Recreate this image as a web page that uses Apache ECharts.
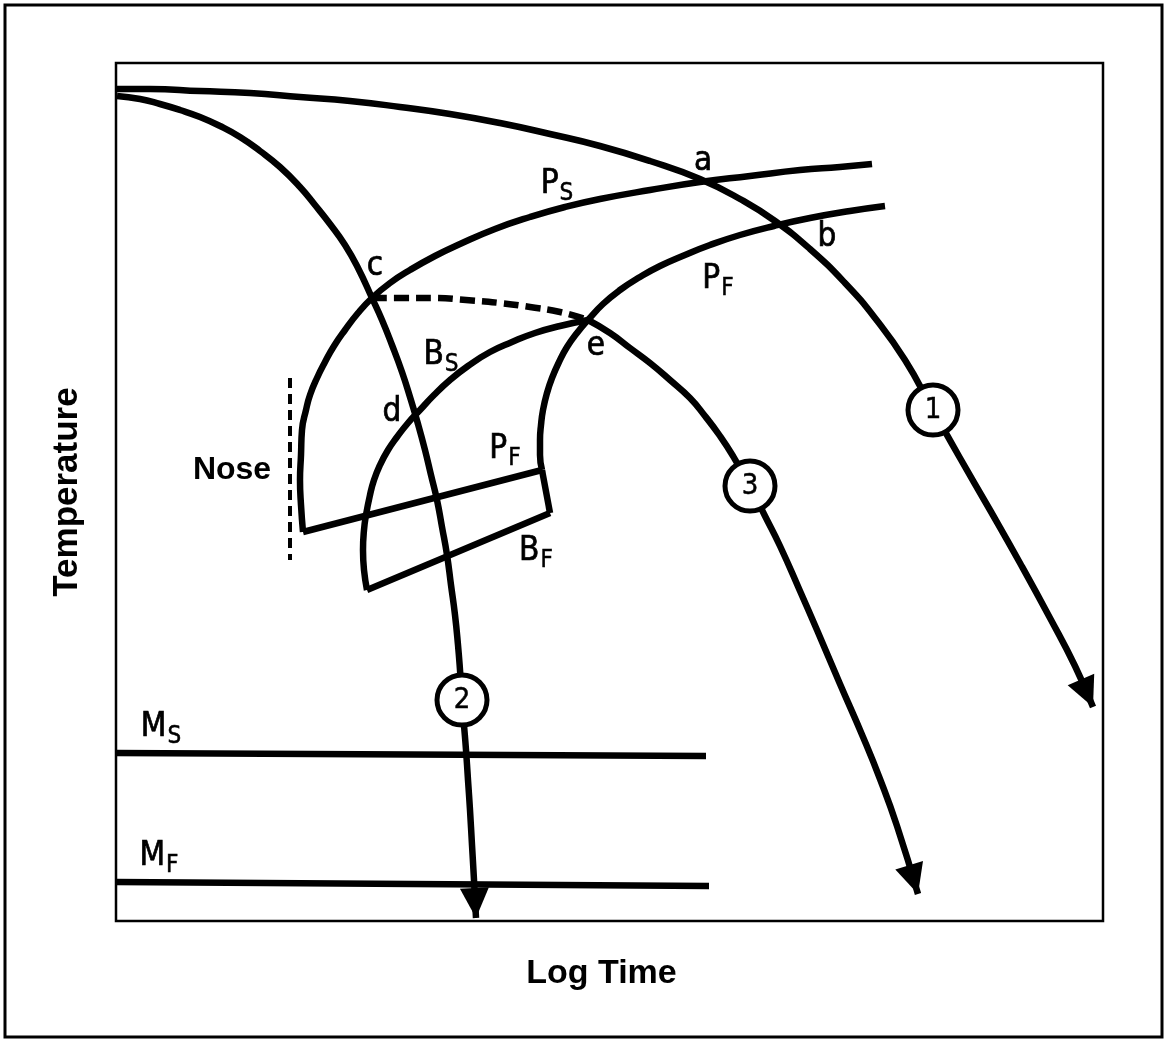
<!DOCTYPE html>
<html>
<head>
<meta charset="utf-8">
<title>CCT diagram</title>
<script src="https://cdn.jsdelivr.net/npm/echarts@6/dist/echarts.min.js"></script>
<style>
  html, body { margin: 0; padding: 0; background: #fff; }
  #chart { width: 1167px; height: 1040px; }
</style>
</head>
<body>
<div id="chart"></div>
<script>
// Axis units are arbitrary: x = log time, y = temperature (both 0 at the lower left corner)
const X_MAX = 987;
const Y_MAX = 858;

// Cooling curves
const cooling1 = [[1, 832], [34, 832], [84, 830], [134, 828], [184, 824], [234, 820], [284, 814], [334, 807],
    [384, 798], [434, 787], [484, 775], [534, 760], [584, 742], [624, 722], [659, 700], [694, 672],
    [729, 638], [759, 603], [789, 561], [817, 511], [844, 463], [874, 411], [904, 358], [934, 303],
    [959, 255], [977, 214]];
const cooling2 = [[1, 825], [24, 822], [44, 817], [64, 811], [84, 804], [104, 795], [124, 784], [144, 770],
    [164, 754], [184, 734], [199, 716], [214, 697], [229, 676], [242, 653], [256, 623], [266, 601],
    [276, 576], [286, 549], [294, 524], [302, 497], [309, 471], [315, 446], [321, 421], [326, 394],
    [331, 366], [335, 336], [339, 306], [342, 276], [344, 251], [346, 221], [348, 196], [350, 171],
    [352, 141], [354, 111], [356, 76], [358, 41], [360, 3]];
const cooling3Dashed = [[256, 623], [284, 623], [317, 623], [350, 621], [384, 618], [414, 614], [444, 609],
    [472, 601]];
const cooling3 = [[472, 601], [494, 588], [514, 573], [534, 558], [554, 541], [574, 523], [589, 505],
    [604, 485], [617, 465], [634, 435], [649, 405], [664, 375], [684, 330], [701, 291], [724, 237],
    [747, 184], [764, 142], [781, 95], [802, 27]];

// Transformation boundaries
const pearliteStart = [[187, 389], [185, 416], [184, 441], [185, 466], [186, 491], [190, 511], [194, 526],
    [201, 543], [209, 559], [218, 575], [229, 591], [242, 608], [256, 623], [274, 638], [294, 651],
    [319, 665], [344, 677], [379, 692], [414, 704], [449, 714], [484, 722], [534, 731], [584, 739],
    [634, 745], [684, 751], [724, 754], [756, 757]];
const pearliteEndLine = [[187, 389], [426, 451]];
const pearliteFinish = [[426, 451], [424, 466], [424, 481], [425, 496], [427, 511], [431, 528], [436, 543],
    [443, 559], [451, 574], [461, 588], [472, 601], [487, 617], [504, 631], [524, 644], [544, 655],
    [569, 666], [594, 676], [624, 686], [658, 695], [694, 703], [734, 710], [769, 715]];
const bainiteSide = [[426, 451], [434, 408]];
const bainiteEndLine = [[434, 408], [251, 331]];
const bainiteStart = [[251, 331], [248, 351], [247, 371], [248, 391], [250, 406], [254, 426], [258, 441],
    [264, 456], [272, 471], [281, 484], [292, 498], [304, 511], [318, 526], [334, 541], [352, 555],
    [374, 569], [396, 579], [419, 588], [444, 595], [472, 601]];
const martensiteStart = [[0, 168], [590, 165]];
const martensiteFinish = [[0, 39], [593, 35]];
const noseMark = [[174, 543], [174, 361]];

// Numbered markers on the cooling curves
const markerPos = [[817, 511], [346, 221], [634, 435]];
const markerText = ['1', '2', '3'];

// Text labels: [main, subscript, x, y]
const labelText = [
    ['a', '', 587, 759], ['b', '', 711, 683], ['c', '', 259, 654], ['d', '', 276, 508], ['e', '', 480, 574],
    ['P', 'S', 441, 736], ['P', 'F', 602, 641], ['B', 'S', 325, 565], ['P', 'F', 389, 471],
    ['B', 'F', 420, 369], ['M', 'S', 45, 193], ['M', 'F', 43, 64]
];
const noseLabel = ['Nose', 116, 451];

const FONT = "'DejaVu Sans Condensed', 'Liberation Sans Narrow', sans-serif";
const BOLD_FONT = "'Liberation Sans', Arial, sans-serif";
const INK = '#000';
const LINE_W = 6.5;
const ARROW_LEN = 30;

function curve(data, smooth, dash, width) {
    return {
        type: 'line',
        data: data,
        smooth: smooth,
        symbol: 'none',
        silent: true,
        z: 3,
        lineStyle: { color: INK, width: width || LINE_W, type: dash || 'solid', cap: 'butt', join: 'round' }
    };
}

// arrowhead at the end of a curve, pointing along its last segment
function addArrow(series) {
    const pts = series.data;
    const [x1, y1] = pts[pts.length - 2];
    const [x2, y2] = pts[pts.length - 1];
    const d = Math.hypot(x2 - x1, y2 - y1);
    const ux = (x2 - x1) / d, uy = (y2 - y1) / d;
    const cx = x2 - ux * ARROW_LEN / 2, cy = y2 - uy * ARROW_LEN / 2;
    series.markLine = {
        silent: true,
        animation: false,
        symbol: ['none', 'triangle'],
        symbolSize: [29, ARROW_LEN],
        label: { show: false },
        lineStyle: { color: INK, width: 2, type: 'solid' },
        data: [[{ coord: [cx - ux * 2, cy - uy * 2] }, { coord: [cx, cy] }]]
    };
    return series;
}

const chart = echarts.init(document.getElementById('chart'));

const series = [
    addArrow(curve(cooling1, 0.5)),
    addArrow(curve(cooling2, 0.5)),
    curve(cooling3Dashed, 0.5, [15, 7]),
    addArrow(curve(cooling3, 0.5)),
    curve(pearliteStart, 0.5),
    curve(pearliteEndLine, false),
    curve(pearliteFinish, 0.5),
    curve(bainiteSide, false),
    curve(bainiteEndLine, false),
    curve(bainiteStart, 0.5),
    curve(martensiteStart, false),
    curve(martensiteFinish, false),
    curve(noseMark, false, [10, 6], 4),
    {
        type: 'scatter',
        silent: true,
        z: 10,
        symbol: 'circle',
        symbolSize: 50,
        data: markerPos.map((p, i) => ({ value: p, name: markerText[i] })),
        itemStyle: { color: '#fff', borderColor: INK, borderWidth: 5, opacity: 1 },
        label: {
            show: true, position: 'inside', formatter: p => p.name,
            color: INK, fontSize: 29, fontFamily: FONT, textBorderColor: INK, textBorderWidth: 0.5
        }
    },
    {
        type: 'scatter',
        silent: true,
        z: 11,
        symbolSize: 1,
        itemStyle: { color: 'transparent' },
        data: labelText.map(l => ({ value: [l[2], l[3]], name: l[0], sub: l[1] }))
            .concat([{ value: [noseLabel[1], noseLabel[2]], name: noseLabel[0], sub: '', bold: true }]),
        label: {
            show: true,
            position: 'inside',
            color: INK,
            opacity: 1,
            formatter: p => {
                if (p.data.bold) return '{n|' + p.name + '}';
                return p.data.sub ? '{m|' + p.name + '}{s|' + p.data.sub + '}' : '{m|' + p.name + '}';
            },
            rich: {
                m: { fontSize: 33, fontFamily: FONT, color: INK, lineHeight: 34, verticalAlign: 'top',
                     textBorderColor: INK, textBorderWidth: 0.7 },
                s: { fontSize: 24, fontFamily: FONT, color: INK, lineHeight: 24, padding: [14, 0, 0, 1],
                     verticalAlign: 'top', textBorderColor: INK, textBorderWidth: 0.5 },
                n: { fontSize: 32, fontFamily: BOLD_FONT, fontWeight: 'bold', color: INK, lineHeight: 36 }
            }
        }
    }
];

chart.setOption({
    animation: false,
    backgroundColor: '#fff',
    graphic: [{
        type: 'rect',
        shape: { x: 5, y: 5, width: 1157, height: 1032 },
        style: { fill: 'none', stroke: INK, lineWidth: 3 },
        z: -1
    }],
    grid: {
        left: 116, top: 63, width: X_MAX, height: Y_MAX,
        show: true, borderColor: INK, borderWidth: 2.5, backgroundColor: 'transparent'
    },
    xAxis: {
        type: 'value', min: 0, max: X_MAX,
        axisLine: { show: false }, axisTick: { show: false }, axisLabel: { show: false }, splitLine: { show: false },
        name: 'Log Time', nameLocation: 'middle', nameGap: 36,
        nameTextStyle: { fontFamily: BOLD_FONT, fontWeight: 'bold', fontSize: 34, color: INK, padding: [0, 16, 0, 0] }
    },
    yAxis: {
        type: 'value', min: 0, max: Y_MAX,
        axisLine: { show: false }, axisTick: { show: false }, axisLabel: { show: false }, splitLine: { show: false },
        name: 'Temperature', nameLocation: 'middle', nameGap: 31, nameRotate: 90,
        nameTextStyle: { fontFamily: BOLD_FONT, fontWeight: 'bold', fontSize: 35, color: INK }
    },
    series: series
});

window.addEventListener('resize', function() {
    chart.resize();
});
</script>
</body>
</html>
